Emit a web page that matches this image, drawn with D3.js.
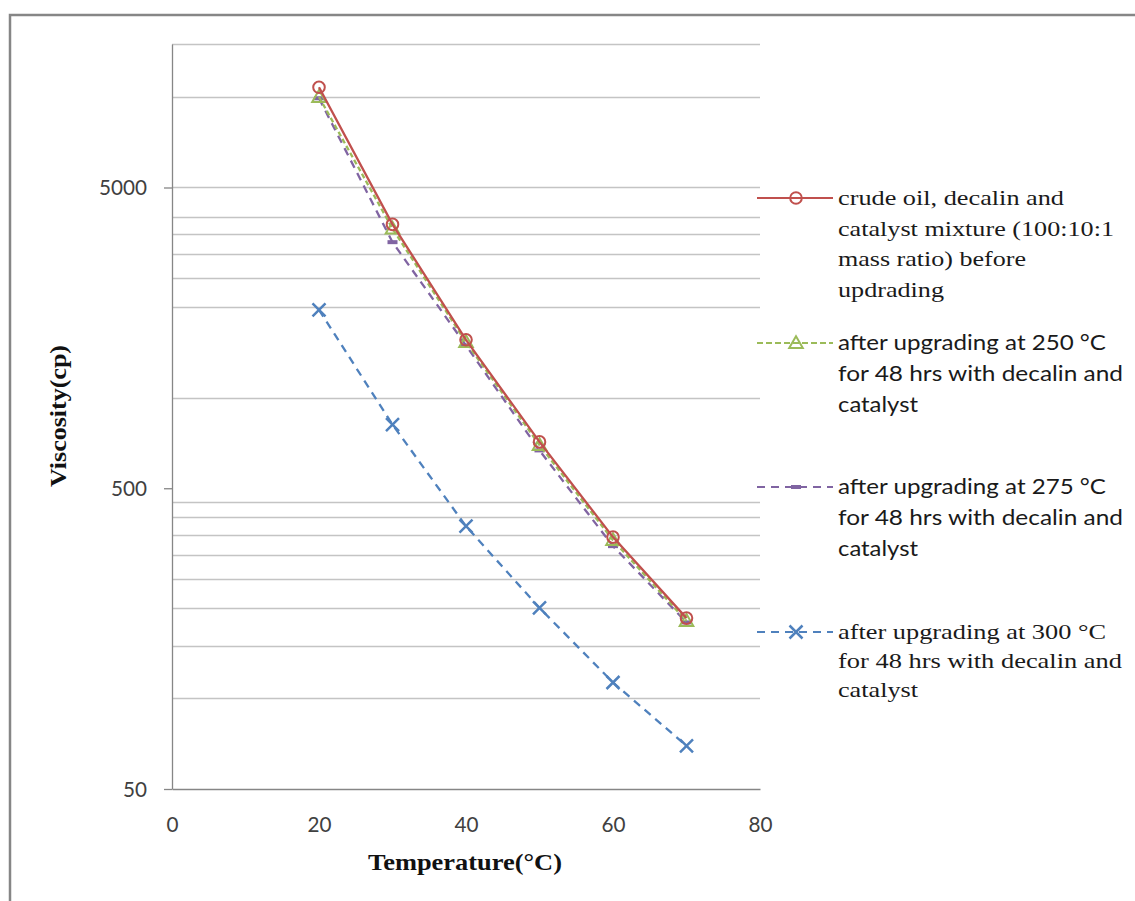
<!DOCTYPE html>
<html><head><meta charset="utf-8">
<script src="https://cdn.jsdelivr.net/npm/d3@7"></script>
<style>body{margin:0;background:#fff}svg{display:block}</style>
</head><body>
<svg id="c" width="1135" height="901"></svg>
<script>
// ---- data ----
const temps = [20, 30, 40, 50, 60, 70];
const crude = [10770, 3770, 1558, 713, 344, 185];
const up250 = [10000, 3650, 1530, 696, 336, 181];
const up275 = [9900, 3290, 1492, 668, 321, 179];
const up300 = [1960, 814, 374, 200, 113, 69.6];
const xTicks = [0, 20, 40, 60, 80];
const yTicks = [50, 500, 5000];
const yGrid = [15000, 10000, 5000, 4000, 3500, 3000, 2500, 2000, 1000, 450, 400, 350, 300, 250, 200, 150, 100];
const legend1 = ["crude oil, decalin and", "catalyst mixture (100:10:1", "mass ratio) before", "updrading"];
const legend2 = ["after upgrading at 250 °C", "for 48 hrs with decalin and", "catalyst"];
const legend3 = ["after upgrading at 275 °C", "for 48 hrs with decalin and", "catalyst"];
const legend4 = ["after upgrading at 300 °C", "for 48 hrs with decalin and", "catalyst"];
const xTitle = "Temperature(°C)";
const yTitle = "Viscosity(cp)";

// ---- setup ----
const svg = d3.select("#c");
svg.append("rect").attr("width",1135).attr("height",901).attr("fill","#fff");
svg.append("rect").attr("x",10).attr("y",15).attr("width",1200).attr("height",1000)
  .attr("fill","none").attr("stroke","#868686").attr("stroke-width",2.5);

const x = d3.scaleLinear().domain([0,80]).range([172,760]);
const y = d3.scaleLog().domain([50,15000]).range([789,44]);

// gridlines
svg.append("g").selectAll("line").data(yGrid).join("line")
  .attr("x1",172).attr("x2",760)
  .attr("y1",d=>Math.round(y(d))+0.5).attr("y2",d=>Math.round(y(d))+0.5)
  .attr("stroke","#c4c4c4").attr("stroke-width",1.3);

// axes
const yAx = svg.append("g").attr("transform","translate(172,0)")
  .call(d3.axisLeft(y).tickValues(yTicks).tickSize(8).tickSizeOuter(0).tickPadding(17).tickFormat(d3.format("d")));
const xAx = svg.append("g").attr("transform","translate(0,789)")
  .call(d3.axisBottom(x).tickValues(xTicks).tickSize(0).tickSizeOuter(0).tickFormat(d3.format("d")));
[yAx,xAx].forEach(g=>{
  g.select(".domain").attr("stroke","#868686").attr("stroke-width",1.3);
  g.selectAll(".tick line").attr("stroke","#868686").attr("stroke-width",1.3);
  g.selectAll("text").attr("font-family","Lato, 'Open Sans', sans-serif").attr("font-size",22).attr("fill","#404040")
    .attr("textLength",function(){return this.textContent.length*12;}).attr("lengthAdjust","spacingAndGlyphs");
});
xAx.selectAll("text").attr("y",35).attr("dy","0.35em");

// series
const series = [
  {vals: up300, color:"#4f81bd", dash:"8,6", marker:"x"},
  {vals: up275, color:"#8064a2", dash:"8,6", marker:"dash"},
  {vals: up250, color:"#9bbb59", dash:"5,3", marker:"tri"},
  {vals: crude, color:"#c0504d", dash:null, marker:"circle"}
];
const line = d3.line().x(d=>x(d[0])).y(d=>y(d[1]));

function drawMarker(g, type, cx, cy, color){
  if(type==="circle"){
    g.append("circle").attr("cx",cx).attr("cy",cy).attr("r",5.8)
      .attr("fill","none").attr("stroke",color).attr("stroke-width",2);
  } else if(type==="tri"){
    const s=d3.symbol(d3.symbolTriangle,80)();
    g.append("path").attr("d",s).attr("transform",`translate(${cx},${cy+1})`)
      .attr("fill","none").attr("stroke",color).attr("stroke-width",2);
  } else if(type==="dash"){
    g.append("rect").attr("x",cx-5).attr("y",cy-2).attr("width",10).attr("height",4).attr("fill",color);
  } else if(type==="x"){
    const r=6.5;
    g.append("path").attr("d",`M${cx-r},${cy-r}L${cx+r},${cy+r}M${cx-r},${cy+r}L${cx+r},${cy-r}`)
      .attr("stroke",color).attr("stroke-width",2.5).attr("fill","none");
  }
}

series.forEach(s=>{
  const pts = temps.map((t,i)=>[t,s.vals[i]]);
  svg.append("path").attr("d",line(pts)).attr("fill","none")
    .attr("stroke",s.color).attr("stroke-width",2.3)
    .attr("stroke-dasharray",s.dash);
  const g = svg.append("g");
  pts.forEach(p=>drawMarker(g,s.marker,x(p[0]),y(p[1]),s.color));
});

// legend
const legendItems = [
  {lines:legend1, widths:[226,276,188,106], ys:[198,228.5,259,289.5], font:"'Liberation Serif', serif", color:"#c0504d", dash:null, marker:"circle"},
  {lines:legend2, widths:[268,285,80], ys:[343,374,405], font:"Lato, 'Open Sans', sans-serif", color:"#9bbb59", dash:"6,3", marker:"tri"},
  {lines:legend3, widths:[268,285,80], ys:[487,518,549], font:"Lato, 'Open Sans', sans-serif", color:"#8064a2", dash:"8,6", marker:"dash"},
  {lines:legend4, widths:[268,284,80], ys:[632,661,690], font:"'Liberation Serif', serif", color:"#4f81bd", dash:"8,6", marker:"x"}
];
legendItems.forEach(it=>{
  const g = svg.append("g");
  const ly = it.ys[0];
  g.append("line").attr("x1",757).attr("x2",833).attr("y1",ly).attr("y2",ly)
    .attr("stroke",it.color).attr("stroke-width",2).attr("stroke-dasharray",it.dash);
  const mg = g.append("g");
  drawMarker(mg,it.marker,796,ly,it.color);
  it.lines.forEach((t,i)=>{
    g.append("text").attr("x",838).attr("y",it.ys[i]+7)
      .attr("font-family",it.font).attr("font-size",22).attr("fill","#1a1a1a")
      .attr("textLength",it.widths[i]).attr("lengthAdjust","spacingAndGlyphs")
      .text(t);
  });
});

// axis titles
svg.append("text").attr("x",465).attr("y",870).attr("text-anchor","middle")
  .attr("font-family","'Liberation Serif', serif").attr("font-weight","bold").attr("font-size",24)
  .attr("textLength",194).attr("lengthAdjust","spacingAndGlyphs").attr("fill","#111")
  .text(xTitle);
svg.append("text").attr("transform","translate(66,416) rotate(-90)").attr("text-anchor","middle")
  .attr("font-family","'Liberation Serif', serif").attr("font-weight","bold").attr("font-size",24)
  .attr("textLength",142).attr("lengthAdjust","spacingAndGlyphs").attr("fill","#111")
  .text(yTitle);
</script>
</body></html>
